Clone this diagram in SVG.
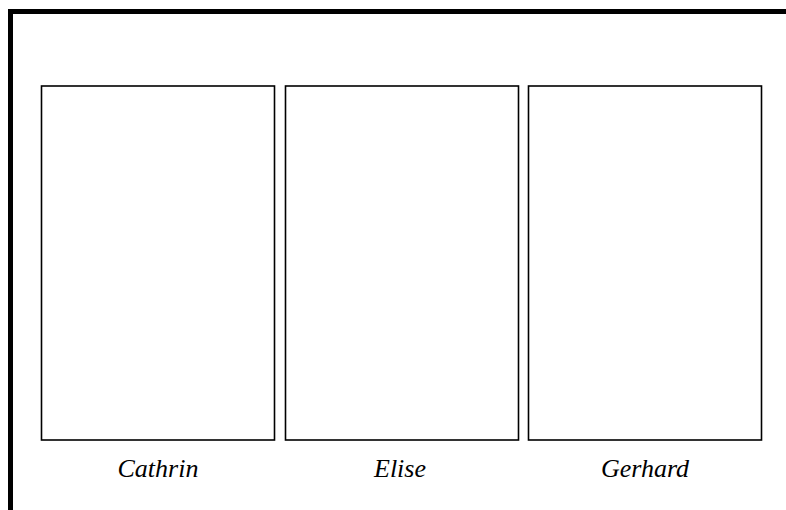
<svg xmlns="http://www.w3.org/2000/svg" width="786" height="510" viewBox="0 0 786 510">
<style>
.panel{fill:#fff;stroke:#000;stroke-width:1.6}
.lbl{font-family:"Liberation Serif",serif;font-style:italic;font-size:26px;fill:#000;text-anchor:middle}
</style>
<rect width="786" height="510" fill="#fff"/>
<path d="M10.5 510 V11.5 H786" fill="none" stroke="#000" stroke-width="5"/>
<g id="cathrin">
<rect class="panel" x="41.5" y="86" width="233" height="354"/>
<text class="lbl" x="158" y="477">Cathrin</text>
</g>
<g id="elise">
<rect class="panel" x="285.5" y="86" width="233" height="354"/>
<text class="lbl" x="400" y="477">Elise</text>
</g>
<g id="gerhard">
<rect class="panel" x="528.5" y="86" width="233" height="354"/>
<text class="lbl" x="645" y="477">Gerhard</text>
</g>
<g id="connectors"></g>
</svg>
